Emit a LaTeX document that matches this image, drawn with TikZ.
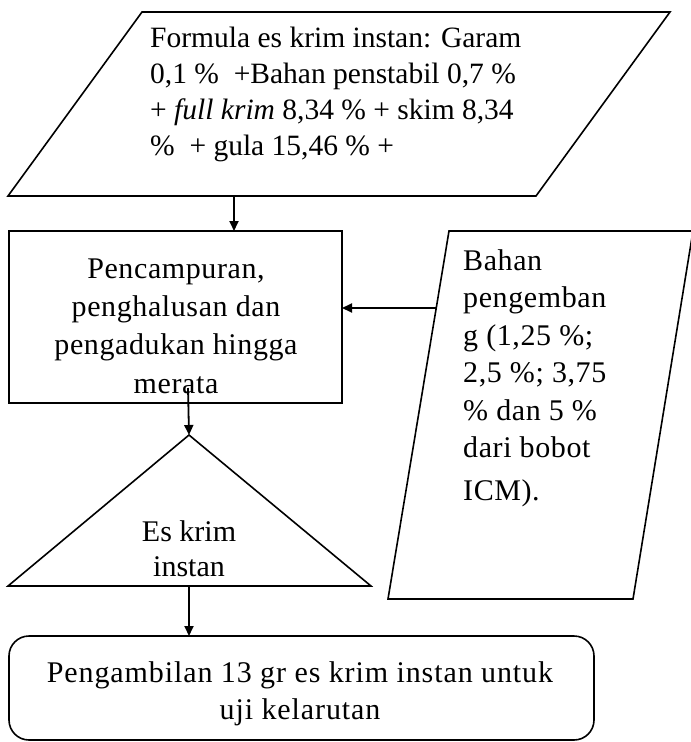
\documentclass[tikz,border=0pt]{standalone}
\usepackage{fontspec}
\setmainfont{Liberation Serif}
\usetikzlibrary{arrows.meta}
\tikzset{
  shapeline/.style={draw=black,line width=1.6pt,line join=miter},
  conn/.style={draw=black,line width=1.8pt,-{Triangle[length=10pt,width=9pt]}},
  txt/.style={inner sep=0pt,font=\fontsize{30}{37.5}\selectfont\addfontfeature{LetterSpace=2}},
}
\begin{document}
\begin{tikzpicture}[x=1pt,y=-1pt]
\useasboundingbox (0,0) rectangle (691,742);
% top parallelogram
\draw[shapeline] (142,12) -- (670,12) -- (536,196) -- (8,196) -- cycle;
\node[txt,anchor=north west,align=left,font=\fontsize{29.5}{36}\selectfont] (formula) at (150,27)
  {Formula es krim instan: Garam\\0,1 \%\ \ +Bahan penstabil 0,7 \%\\+ \textit{full krim} 8,34 \% + skim 8,34\\\%\ \ + gula 15,46 \% +};
\coordinate (pbot) at (234,196);
% mixing box
\draw[shapeline] (9,231) rectangle (342,403);
\coordinate (boxtop) at (234,231);
\coordinate (boxright) at (342,308);
\coordinate (boxout) at (188,388);
\node[txt,anchor=north,align=center,font=\fontsize{30}{38}\selectfont\addfontfeature{LetterSpace=2}] (mix) at (176,259)
  {Pencampuran,\\penghalusan dan\\pengadukan hingga\\[1pt]merata};
% right parallelogram
\draw[shapeline] (449,231) -- (693,231) -- (633,599) -- (388,599) -- cycle;
\coordinate (rin) at (436,308);
\node[txt,anchor=north west,align=left] (bahan) at (463,249)
  {Bahan\\pengemban\\g (1,25 \%;\\2,5 \%; 3,75\\\% dan 5 \%\\dari bobot\\[5pt]ICM).};
% triangle
\draw[shapeline] (189,435) -- (371,586) -- (8,586) -- cycle;
\coordinate (tapex) at (189,435);
\coordinate (tbase) at (189,586);
\node[txt,anchor=north,align=center,font=\fontsize{30}{35}\selectfont] (es) at (189,520)
  {Es krim\\instan};
% rounded box
\draw[shapeline,rounded corners=20pt] (9,636) rectangle (594,740);
\coordinate (rtop) at (189,636);
\node[txt,anchor=north,align=center,font=\fontsize{30}{37}\selectfont\addfontfeature{LetterSpace=3}] (ambil) at (300,661)
  {Pengambilan 13 gr es krim instan untuk\\uji kelarutan};
% connectors
\draw[conn] (pbot) -- (boxtop);
\draw[conn] (rin) -- (boxright);
\draw[conn] (boxout) -- (tapex);
\draw[conn] (tbase) -- (rtop);
\end{tikzpicture}
\end{document}
